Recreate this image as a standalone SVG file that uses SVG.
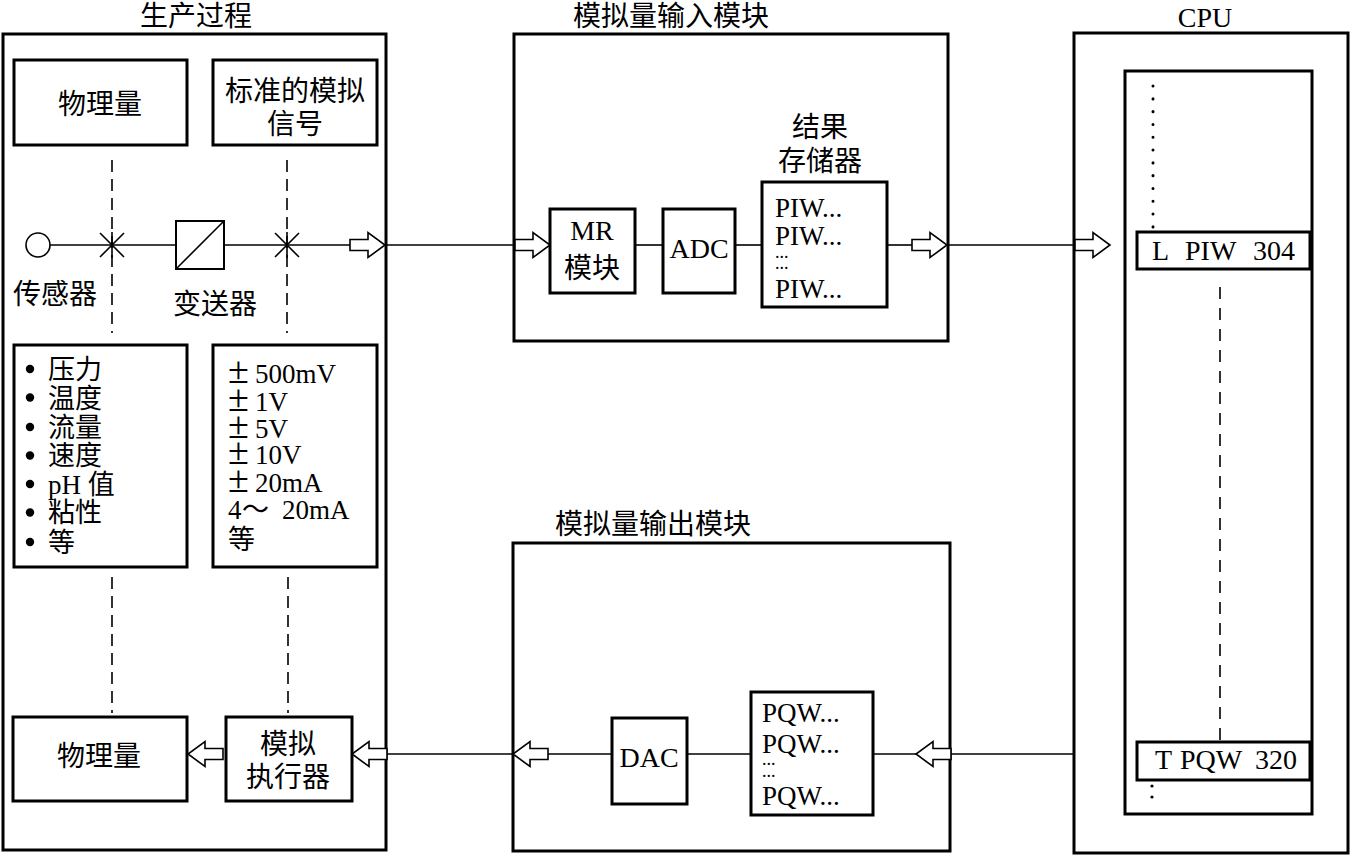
<svg xmlns="http://www.w3.org/2000/svg" xmlns:xlink="http://www.w3.org/1999/xlink" width="1350" height="855" viewBox="0 0 1350 855">
<style>
.box{fill:#fff;stroke:#000;stroke-width:3}
.frame{fill:none;stroke:#000;stroke-width:3}
.ln{fill:none;stroke:#000;stroke-width:1.6}
.dash{fill:none;stroke:#000;stroke-width:1.6;stroke-dasharray:12 7}
.arr{fill:#fff;stroke:#000;stroke-width:1.6}
.t{font-family:"Liberation Serif","Noto Sans CJK SC",serif;font-size:28px;fill:#000}
.c{text-anchor:middle}
.s{font-size:27px}
.d{font-size:18px}
.pm{font-size:38px}
</style>
<defs>
<path id="ar" class="arr" d="M-35,-5.5 H-17 V-12.5 L0,0 L-17,12.5 V5.5 H-35 Z"/>
</defs>
<rect width="1350" height="855" fill="#fff"/>

<g id="process">
<rect class="frame" x="3" y="34" width="383" height="816"/>
<text class="t c" x="196" y="26">生产过程</text>
</g>

<g id="phys-top">
<rect class="box" x="14" y="60" width="173" height="85"/>
<text class="t c" x="100" y="114">物理量</text>
</g>
<g id="std-signal">
<rect class="box" x="213" y="60" width="164" height="85"/>
<text class="t c" x="295" y="101">标准的模拟<tspan x="295" y="134">信号</tspan></text>
</g>

<g id="sensor">
<circle class="ln" cx="38" cy="245" r="12" fill="#fff"/>
<text class="t c" x="55" y="304">传感器</text>
</g>
<g id="transmitter">
<rect x="176" y="221" width="48" height="48" fill="#fff" stroke="#000" stroke-width="2"/>
<line class="ln" x1="176" y1="269" x2="224" y2="221"/>
<text class="t c" x="215" y="314">变送器</text>
</g>

<g id="phys-list">
<rect class="box" x="14" y="345" width="173" height="222"/>
<g fill="#000">
<circle cx="30" cy="369" r="4.2"/><circle cx="30" cy="397.5" r="4.2"/><circle cx="30" cy="427" r="4.2"/><circle cx="30" cy="455.5" r="4.2"/><circle cx="30" cy="484" r="4.2"/><circle cx="30" cy="512.5" r="4.2"/><circle cx="30" cy="542" r="4.2"/>
</g>
<text class="t s"><tspan x="48" y="379">压力</tspan><tspan x="48" y="408">温度</tspan><tspan x="48" y="437">流量</tspan><tspan x="48" y="465">速度</tspan><tspan x="48" y="494">pH 值</tspan><tspan x="48" y="522">粘性</tspan><tspan x="48" y="552">等</tspan></text>
</g>

<g id="signal-list">
<rect class="box" x="213" y="345" width="164" height="222"/>
<text class="t s"><tspan x="228" y="383" class="pm">±</tspan><tspan x="255" y="383">500mV</tspan><tspan x="228" y="411" class="pm">±</tspan><tspan x="255" y="411">1V</tspan><tspan x="228" y="438" class="pm">±</tspan><tspan x="255" y="438">5V</tspan><tspan x="228" y="464" class="pm">±</tspan><tspan x="255" y="464">10V</tspan><tspan x="228" y="492" class="pm">±</tspan><tspan x="255" y="492">20mA</tspan><tspan x="228" y="519">4</tspan><tspan x="242" y="519">～</tspan><tspan x="282" y="519">20mA</tspan><tspan x="228" y="549">等</tspan></text>
</g>

<g id="phys-bottom">
<rect class="box" x="13" y="717" width="174" height="84"/>
<text class="t c" x="99" y="766">物理量</text>
</g>
<g id="actuator">
<rect class="box" x="226" y="717" width="126" height="84"/>
<text class="t c" x="288" y="754">模拟<tspan x="288" y="787">执行器</tspan></text>
</g>

<g id="ai-module">
<rect class="frame" x="514" y="34" width="434" height="307"/>
<text class="t c" x="671" y="26">模拟量输入模块</text>
</g>
<g id="mr">
<rect class="box" x="550" y="209" width="85" height="84"/>
<text class="t c" x="592" y="240">MR<tspan x="592" y="278">模块</tspan></text>
</g>
<g id="adc">
<rect class="box" x="663" y="209" width="72" height="84"/>
<text class="t c" x="699" y="258">ADC</text>
</g>
<g id="result-mem">
<text class="t c" x="820" y="137">结果<tspan x="820" y="171">存储器</tspan></text>
<rect class="box" x="762" y="182" width="125" height="125"/>
<text class="t s"><tspan x="775" y="217">PIW...</tspan><tspan x="775" y="245">PIW...</tspan><tspan x="775" y="258" class="d">...</tspan><tspan x="775" y="269" class="d">...</tspan><tspan x="775" y="298">PIW...</tspan></text>
</g>

<g id="ao-module">
<rect class="frame" x="513" y="543" width="437" height="308"/>
<text class="t c" x="653" y="534">模拟量输出模块</text>
</g>
<g id="dac">
<rect class="box" x="612" y="718" width="75" height="86"/>
<text class="t c" x="649" y="767">DAC</text>
</g>
<g id="pqw-mem">
<rect class="box" x="751" y="692" width="122" height="123"/>
<text class="t s"><tspan x="762" y="722">PQW...</tspan><tspan x="762" y="753">PQW...</tspan><tspan x="762" y="765" class="d">...</tspan><tspan x="762" y="777" class="d">...</tspan><tspan x="762" y="805">PQW...</tspan></text>
</g>

<g id="cpu">
<rect class="frame" x="1074" y="33" width="274" height="820"/>
<text class="t c" x="1205" y="27">CPU</text>
<rect class="frame" x="1125" y="71" width="187" height="743"/>
<line x1="1153" y1="86" x2="1153" y2="230" stroke="#000" stroke-width="3" stroke-linecap="round" stroke-dasharray="0.1 12.7"/>
<line class="dash" x1="1220" y1="287" x2="1220" y2="742" style="stroke-dasharray:12 9"/>
<circle cx="1152" cy="786" r="1.6" fill="#000"/>
<circle cx="1152" cy="797" r="1.6" fill="#000"/>
</g>
<g id="l-piw">
<rect class="box" x="1137" y="232" width="173" height="37"/>
<text class="t" y="260"><tspan x="1152">L</tspan><tspan x="1185">PIW</tspan><tspan x="1253">304</tspan></text>
</g>
<g id="t-pqw">
<rect class="box" x="1137" y="742" width="173" height="38"/>
<text class="t" y="769"><tspan x="1155">T</tspan><tspan x="1180">PQW</tspan><tspan x="1255">320</tspan></text>
</g>

<g id="connectors">
<line class="dash" x1="112" y1="160" x2="112" y2="333"/>
<line class="dash" x1="287" y1="160" x2="287" y2="333"/>
<line class="dash" x1="112" y1="577" x2="112" y2="713"/>
<line class="dash" x1="288" y1="577" x2="288" y2="713"/>
<line class="ln" x1="50" y1="245" x2="176" y2="245"/>
<line class="ln" x1="224" y1="245" x2="350" y2="245"/>
<path class="ln" d="M100,233 L124,257 M100,257 L124,233 M112,232 V258"/>
<path class="ln" d="M275,233 L299,257 M275,257 L299,233 M287,232 V258"/>
<use xlink:href="#ar" transform="translate(385,245)"/>
<line class="ln" x1="386" y1="245" x2="515" y2="245"/>
<use xlink:href="#ar" transform="translate(550,245)"/>
<line class="ln" x1="635" y1="245" x2="663" y2="245"/>
<line class="ln" x1="735" y1="245" x2="762" y2="245"/>
<line class="ln" x1="887" y1="245" x2="913" y2="245"/>
<use xlink:href="#ar" transform="translate(947,245)"/>
<line class="ln" x1="948" y1="245" x2="1075" y2="245"/>
<use xlink:href="#ar" transform="translate(1110,245)"/>
<line class="ln" x1="950" y1="754" x2="1074" y2="754"/>
<use xlink:href="#ar" transform="translate(916,754) scale(-1,1)"/>
<line class="ln" x1="873" y1="754" x2="916" y2="754"/>
<line class="ln" x1="687" y1="754" x2="751" y2="754"/>
<line class="ln" x1="548" y1="754" x2="612" y2="754"/>
<use xlink:href="#ar" transform="translate(513,754) scale(-1,1)"/>
<line class="ln" x1="386" y1="754" x2="513" y2="754"/>
<use xlink:href="#ar" transform="translate(352,754) scale(-1,1)"/>
<use xlink:href="#ar" transform="translate(188,754) scale(-1,1)"/>
</g>
</svg>
